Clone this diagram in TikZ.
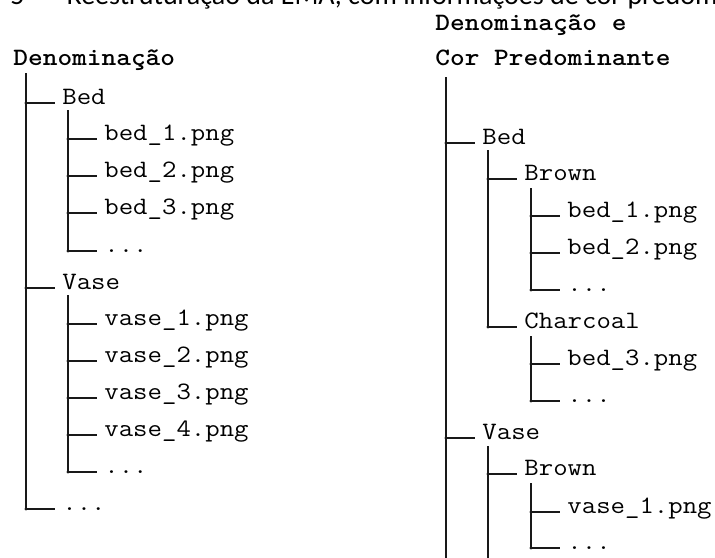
\documentclass[tikz,border=0pt]{standalone}
\usepackage{fontspec}
\usepackage{graphicx}
\newfontfamily\capfont{Carlito}
\newcommand\T[1]{\scalebox{1.12}[1]{#1}}
\tikzset{
  tnode/.style={anchor=base west, inner xsep=3.5pt, inner ysep=0pt,
    font=\fontsize{12.5}{14}\selectfont\ttfamily, text=black},
  hnode/.style={anchor=base west, inner sep=0pt,
    font=\fontsize{12.5}{14}\selectfont\ttfamily\bfseries, text=black},
  br/.style={draw=black!90, line width=0.7pt},
}
\newcommand\leaf[4]{%
  \coordinate (j#1) at (#2,#3);
  \node[tnode] (#1) at (#2+29,#3+1.5) {\T{#4}};
  \draw[br] (j#1) -- (#1.base west |- j#1);
  \fill[black!90] (j#1) circle[radius=1.6];}
\begin{document}
\begin{tikzpicture}[x=0.5pt,y=-0.5pt]
\useasboundingbox (0,0) rectangle (715,557);
\clip (0,0) rectangle (715,557);
\fill[white] (0,0) rectangle (715,557);
% caption (cut off at top)
\node[anchor=base west, inner sep=0pt, font=\capfont\fontsize{14}{16}\selectfont] (cap) at (10,4.5)
  {5\hspace{0.5em}–\hspace{0.5em}Reestruturação da EMA, com informações de cor predominante};
% ---------- left tree ----------
\node[hnode] (lroot) at (13,65.5) {\T{Denominação}};
\coordinate (lrtop) at (26,73);
\leaf{lbed}{26}{103}{Bed}
\coordinate (lbedtop) at (68,110);
\leaf{lb1}{68}{139}{bed\_1.png}
\leaf{lb2}{68}{176}{bed\_2.png}
\leaf{lb3}{68}{213}{bed\_3.png}
\leaf{lbd}{68}{251}{...}
\draw[br] (lbedtop) -- (jlbd);
\leaf{lvase}{26}{288}{Vase}
\coordinate (lvasetop) at (68,295);
\leaf{lv1}{68}{324}{vase\_1.png}
\leaf{lv2}{68}{361}{vase\_2.png}
\leaf{lv3}{68}{398}{vase\_3.png}
\leaf{lv4}{68}{435}{vase\_4.png}
\leaf{lvd}{68}{472}{...}
\draw[br] (lvasetop) -- (jlvd);
\leaf{lrd}{26}{509}{...}
\draw[br] (lrtop) -- (jlrd);
% ---------- right tree ----------
\node[hnode] (rroot1) at (435,30) {\T{Denominação e}};
\node[hnode] (rroot2) at (435,65.5) {\T{Cor Predominante}};
\coordinate (rrtop) at (446,77);
\coordinate (rrbot) at (446,565);
\draw[br] (rrtop) -- (rrbot);
\leaf{rbed}{446}{143}{Bed}
\coordinate (rbedtop) at (488,150);
\leaf{rbbrown}{488}{179}{Brown}
\coordinate (rbbrowntop) at (531,188);
\leaf{rb1}{531}{216}{bed\_1.png}
\leaf{rb2}{531}{253}{bed\_2.png}
\leaf{rbd1}{531}{290}{...}
\draw[br] (rbbrowntop) -- (jrbd1);
\leaf{rbchar}{488}{327}{Charcoal}
\coordinate (rbchartop) at (531,336);
\leaf{rb3}{531}{364}{bed\_3.png}
\leaf{rbd2}{531}{401}{...}
\draw[br] (rbchartop) -- (jrbd2);
\draw[br] (rbedtop) -- (jrbchar);
\leaf{rvase}{446}{438}{Vase}
\coordinate (rvasetop) at (488,446);
\coordinate (rvasebot) at (488,565);
\draw[br] (rvasetop) -- (rvasebot);
\leaf{rvbrown}{488}{474}{Brown}
\coordinate (rvbrowntop) at (531,483);
\leaf{rv1}{531}{512}{vase\_1.png}
\leaf{rvd}{531}{548}{...}
\draw[br] (rvbrowntop) -- (jrvd);
\end{tikzpicture}
\end{document}
